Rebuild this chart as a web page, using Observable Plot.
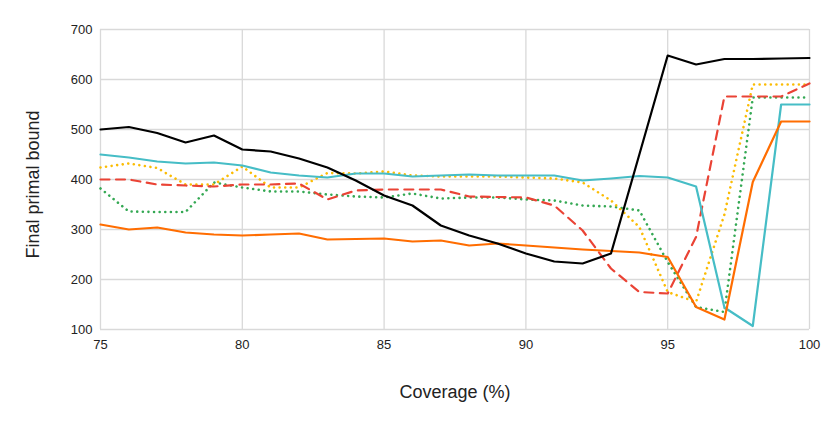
<!DOCTYPE html>
<html>
<head>
<meta charset="utf-8">
<script src="https://cdn.jsdelivr.net/npm/d3@7"></script>
<script src="https://cdn.jsdelivr.net/npm/@observablehq/plot@0.6"></script>
<style>
  html, body { margin: 0; padding: 0; background: #fff; }
  #chart { width: 830px; height: 422px; }
</style>
</head>
<body>
<div id="chart"></div>
<script>
const coverage = [75,76,77,78,79,80,81,82,83,84,85,86,87,88,89,90,91,92,93,94,95,96,97,98,99,100];
const seriesBlack  = [500,505,493,474,488,460,456,442,424,398,368,348,308,288,272,252,236,232,252,450,648,630,641,641,642,643];
const seriesCyan   = [450,444,436,432,434,428,414,408,404,412,412,406,408,410,408,408,408,398,402,407,404,386,144,107,550,550];
const seriesOrange = [310,300,304,294,290,288,290,292,280,281,282,276,278,268,272,268,264,260,257,254,245,145,120,395,516,516];
const seriesRed    = [400,400,390,388,386,390,390,392,360,378,380,380,380,366,365,364,348,298,222,175,172,285,566,566,566,592];
const seriesYellow = [424,432,423,390,390,426,384,384,413,412,416,408,406,406,406,404,402,394,358,305,175,155,330,590,590,590];
const seriesGreen  = [382,336,335,335,394,384,376,376,370,366,364,372,362,364,364,360,358,348,346,338,235,145,135,564,564,564];
const xTicks = [75,80,85,90,95,100];
const yTicks = [100,200,300,400,500,600,700];
const xTitle = "Coverage (%)";
const yTitle = "Final primal bound";

const rows = (vals) => coverage.map((c, i) => ({x: c, y: vals[i]}));

const chart = Plot.plot({
  width: 830,
  height: 422,
  marginLeft: 100,
  marginRight: 21,
  marginTop: 29,
  marginBottom: 93,
  style: {fontFamily: "'Liberation Sans', Arial, sans-serif", fontSize: "13px", color: "#222", background: "#fff"},
  x: {domain: [75, 100]},
  y: {domain: [100, 700]},
  marks: [
    Plot.gridY({ticks: yTicks, stroke: "#d9d9d9", strokeOpacity: 1, strokeWidth: 1.3}),
    Plot.gridX({ticks: xTicks, stroke: "#d9d9d9", strokeOpacity: 1, strokeWidth: 1.3}),
    Plot.axisY({ticks: yTicks, tickSize: 0, tickPadding: 8, label: null, fontSize: 13}),
    Plot.axisX({ticks: xTicks, tickSize: 0, tickPadding: 10, label: null, fontSize: 13}),
    Plot.line(rows(seriesGreen), {x: "x", y: "y", stroke: "#34a853", strokeWidth: 2.6, strokeDasharray: "0.01,5.6", strokeLinecap: "round"}),
    Plot.line(rows(seriesYellow), {x: "x", y: "y", stroke: "#fbbc04", strokeWidth: 2.6, strokeDasharray: "0.01,5.6", strokeLinecap: "round"}),
    Plot.line(rows(seriesRed), {x: "x", y: "y", stroke: "#ea4335", strokeWidth: 2.2, strokeDasharray: "9,6.5"}),
    Plot.line(rows(seriesCyan), {x: "x", y: "y", stroke: "#46bdc6", strokeWidth: 2.2}),
    Plot.line(rows(seriesOrange), {x: "x", y: "y", stroke: "#ff6d01", strokeWidth: 2.2}),
    Plot.line(rows(seriesBlack), {x: "x", y: "y", stroke: "#000000", strokeWidth: 2.2}),
    Plot.text([xTitle], {frameAnchor: "bottom", dy: 68, fontSize: 18, fill: "#222", textAnchor: "middle"}),
    Plot.text([yTitle], {frameAnchor: "left", dx: -67, dy: 5, rotate: -90, fontSize: 18, fill: "#222", textAnchor: "middle"})
  ]
});
document.getElementById("chart").appendChild(chart);
</script>
</body>
</html>
